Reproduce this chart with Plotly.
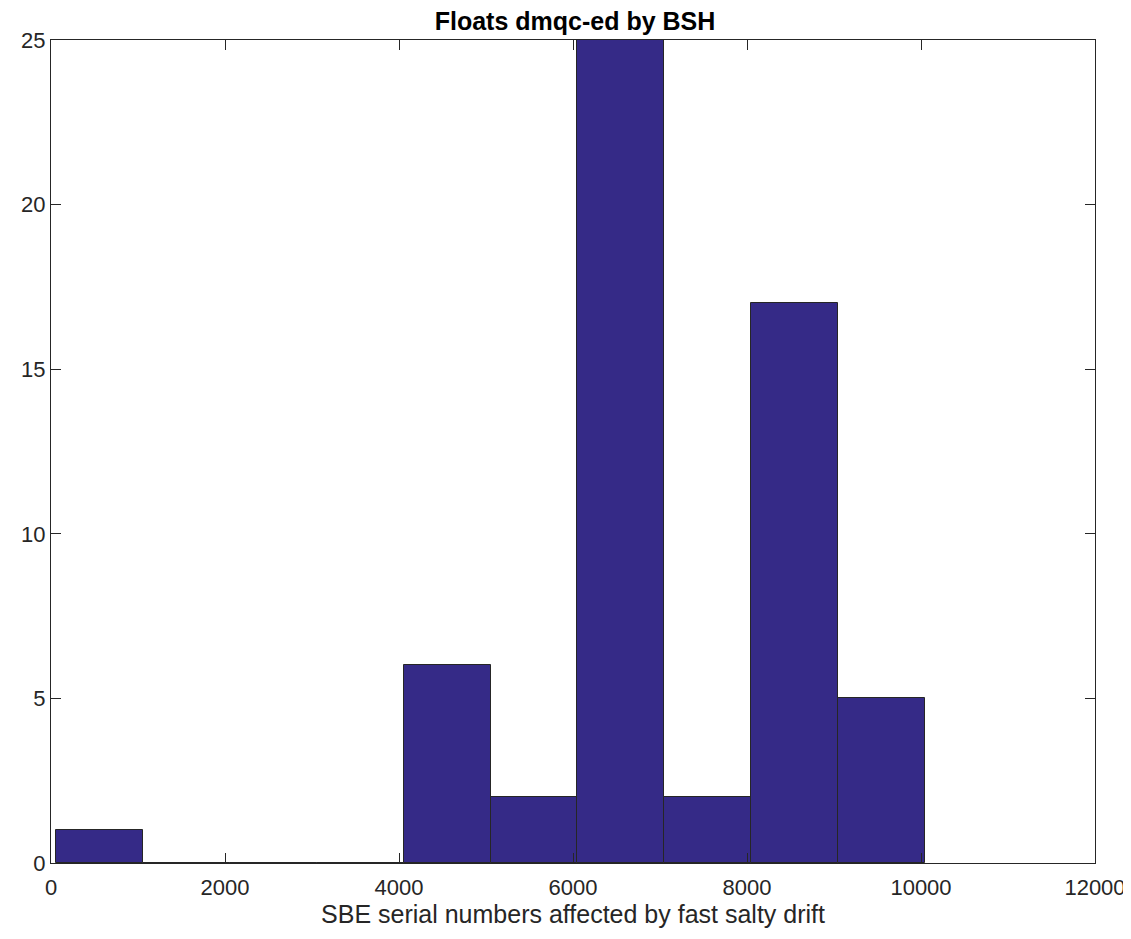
import plotly.graph_objects as go

bin_edges = [57, 1056, 2055, 3054, 4053, 5052, 6051, 7050, 8049, 9048, 10047]
counts = [1, 0, 0, 0, 6, 2, 25, 2, 17, 5]
x_ticks = [0, 2000, 4000, 6000, 8000, 10000, 12000]
y_ticks = [0, 5, 10, 15, 20, 25]

centers = [(bin_edges[i] + bin_edges[i + 1]) / 2 for i in range(len(counts))]
widths = [bin_edges[i + 1] - bin_edges[i] for i in range(len(counts))]

FONT = "Liberation Sans, Arial, Helvetica"

fig = go.Figure()
fig.add_trace(go.Bar(
    x=centers, y=counts, width=widths,
    marker=dict(color="#352A87", line=dict(color="#262626", width=1)),
))

axis_common = dict(
    showgrid=False, zeroline=False, showline=True, mirror="ticks",
    linecolor="#262626", linewidth=1, ticks="inside", ticklen=10,
    tickcolor="#262626", tickfont=dict(family=FONT, size=22, color="#262626"),
)

fig.update_layout(
    width=1131, height=939,
    margin=dict(l=43, r=44, t=32, b=84),
    paper_bgcolor="white", plot_bgcolor="white",
    showlegend=False, bargap=0,
    title=dict(text="<b>Floats dmqc-ed by BSH</b>", x=567 / 1131, xanchor="center",
               y=1 - 13 / 939, yanchor="middle",
               font=dict(family=FONT, size=25, color="black")),
    xaxis=dict(range=[0, 12000], tickvals=x_ticks, ticktext=[str(v) for v in x_ticks],
               ticklabelstandoff=5,
               title=dict(text="SBE serial numbers affected by fast salty drift",
                          font=dict(family=FONT, size=25, color="#262626"), standoff=5),
               **axis_common),
    yaxis=dict(range=[0, 25], tickvals=y_ticks, ticktext=[str(v) for v in y_ticks], **axis_common),
)

fig.write_html("out.html")
